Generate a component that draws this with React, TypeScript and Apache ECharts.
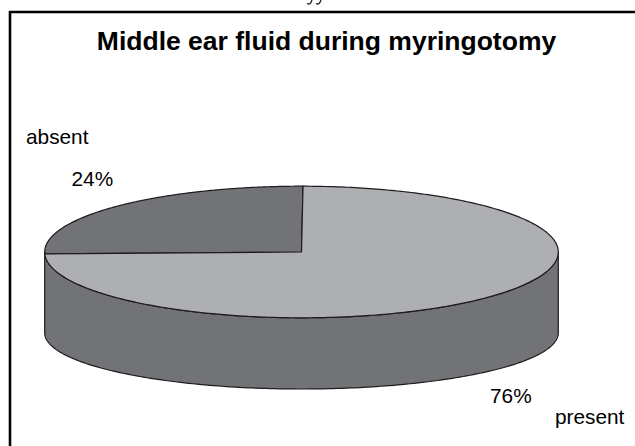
import React, { useEffect, useRef } from "react";
import * as echarts from "echarts";

const titleText = "Middle ear fluid during myringotomy";
const categories = ["absent", "present"];
const shares = [24, 76];
const sliceColors = ["#727376", "#aeafb2"];

const W = 635;
const H = 446;
const FONT = '"Liberation Sans", Arial, sans-serif';

// Geometry of the tilted disc
const CX = 301.5;
const CY = 252;
const RX = 256.8;
const RY = 65.8;
const BOTTOM_CY = 333;
const BOTTOM_RY = 56;
const WALL = "#727376";
const EDGE = "#1c1c1e";

const total = shares.reduce((a, b) => a + b, 0);

// Fraction of the circle -> angle anticlockwise from the top of the disc,
// with the slight foreshortening of the drawn 3D projection.
const rimAngle = (frac: number) => frac * 2 * Math.PI + 0.098 * Math.sin(frac * 2 * Math.PI);

const rimPoint = (a: number): [number, number] => [CX - RX * Math.sin(a), CY - RY * Math.cos(a)];

function renderSlice(params: any, api: any) {
  const idx = params.dataIndex;
  const before = shares.slice(0, idx).reduce((a, b) => a + b, 0);
  const from = before / total;
  const to = (before + api.value(0)) / total;
  const pts: [number, number][] = [[CX, CY]];
  const N = 360;
  for (let i = 0; i <= N; i++) {
    pts.push(rimPoint(rimAngle(from + ((to - from) * i) / N) - 0.006));
  }
  const children: any[] = [];
  if (idx === shares.length - 1) {
    // The visible front wall, left rim to right rim
    const wall: [number, number][] = [];
    for (let d = 0; d <= 180; d++) {
      const t = (d * Math.PI) / 180;
      wall.push([CX - RX * Math.cos(t), CY + RY * Math.sin(t)]);
    }
    for (let d = 180; d >= 0; d--) {
      const t = (d * Math.PI) / 180;
      wall.push([CX - RX * Math.cos(t), BOTTOM_CY + BOTTOM_RY * Math.sin(t)]);
    }
    children.push({
      type: "polygon",
      shape: { points: wall },
      style: { fill: WALL, stroke: EDGE, lineWidth: 1.2 },
    });
  }
  children.push({
    type: "polygon",
    shape: { points: pts },
    style: { fill: sliceColors[idx], stroke: EDGE, lineWidth: 1.2 },
  });
  return { type: "group", children };
}

const labelStyle = (text: string) => ({
  text,
  font: `20.8px ${FONT}`,
  fill: "#000000",
  textVerticalAlign: "middle",
});

const tail = (x: number) => ({
  type: "bezierCurve",
  shape: { x1: x + 5, y1: 0, cpx1: x + 4, cpy1: 3, cpx2: x + 2.5, cpy2: 5, x2: x, y2: 3.5 },
  style: { fill: "none", stroke: "#222222", lineWidth: 1.3 },
});

export default function App() {
  const ref = useRef<HTMLDivElement>(null);
  useEffect(() => {
    const chart = echarts.init(ref.current!, null, { renderer: "svg" });
    chart.setOption({
      animation: false,
      backgroundColor: "#ffffff",
      title: {
        text: titleText,
        left: 321.5,
        top: 22,
        textAlign: "center",
        textStyle: { fontFamily: FONT, fontWeight: "bold", fontSize: 26.5, color: "#000000" },
      },
      series: [
        {
          type: "custom",
          coordinateSystem: "none",
          renderItem: renderSlice,
          data: shares.map((v, i) => ({ name: categories[i], value: [v] })),
          silent: true,
        },
      ],
      graphic: [
        {
          type: "polyline",
          shape: { points: [[10, 446], [10, 12], [635, 12]] },
          style: { fill: "none", stroke: "#000000", lineWidth: 2.6 },
        },
        { type: "text", x: 26, y: 136, style: labelStyle(categories[0]) },
        { type: "text", x: 71.5, y: 178, style: labelStyle(`${shares[0]}%`) },
        { type: "text", x: 490, y: 395.5, style: labelStyle(`${shares[1]}%`) },
        { type: "text", x: 555, y: 416, style: labelStyle(categories[1]) },
        tail(307),
        tail(316),
      ],
    });
    return () => chart.dispose();
  }, []);
  return (
    <div
      ref={ref}
      style={{ position: "absolute", left: 0, top: 0, width: W, height: H }}
    />
  );
}
